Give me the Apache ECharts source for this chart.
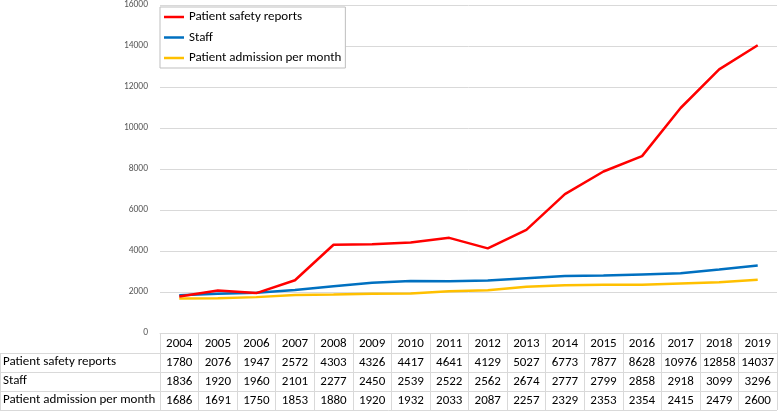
<!DOCTYPE html>
<html><head><meta charset="utf-8">
<script src="https://cdn.jsdelivr.net/npm/echarts@6/dist/echarts.min.js"></script>
<style>html,body{margin:0;padding:0;background:#fff}#c{width:780px;height:411px}</style>
</head><body><div id="c"></div>
<script>
const years = ['2004','2005','2006','2007','2008','2009','2010','2011','2012','2013','2014','2015','2016','2017','2018','2019'];
const reports = [1780,2076,1947,2572,4303,4326,4417,4641,4129,5027,6773,7877,8628,10976,12858,14037];
const staff = [1836,1920,1960,2101,2277,2450,2539,2522,2562,2674,2777,2799,2858,2918,3099,3296];
const admissions = [1686,1691,1750,1853,1880,1920,1932,2033,2087,2257,2329,2353,2354,2415,2479,2600];
const seriesNames = ['Patient safety reports','Staff','Patient admission per month'];
const yTicks = {min:0, max:16000, interval:2000};

const FONT = 'Calibri, Carlito, Lato, sans-serif';
const BORDER = '#d9d9d9';
const colors = ['#ff0000','#0070c0','#ffc000'];
const rows = [reports, staff, admissions];

const chart = echarts.init(document.getElementById('c'));
const L = 160, R = 777, TOP = 333;
const rowTops = [353, 372, 391];

const xAxes = [{
  type:'category', data: years, gridIndex:0, position:'bottom',
  axisLine:{show:true, lineStyle:{color:BORDER}},
  axisTick:{show:true, alignWithLabel:false, length:20, lineStyle:{color:BORDER}},
  axisLabel:{interval:0, margin:4, fontSize:13, color:'#000', fontFamily:FONT},
  splitLine:{show:false}
}];
rows.forEach((r,i)=>{
  xAxes.push({
    type:'category', data: r.map(String), gridIndex:0, position:'bottom', offset: rowTops[i]-TOP,
    axisLine:{show:true, lineStyle:{color:BORDER}},
    axisTick:{show:true, alignWithLabel:false, length:19, lineStyle:{color:BORDER}},
    axisLabel:{interval:0, margin:3, fontSize:13, color:'#000', fontFamily:FONT},
    splitLine:{show:false}
  });
});

const graphics = [];
rowTops.forEach((y,i)=>{
  graphics.push({type:'line', shape:{x1:0.5,y1:y+0.5,x2:L,y2:y+0.5}, style:{stroke:BORDER, lineWidth:1}, silent:true});
  graphics.push({type:'text', left:3, top:y+2, style:{text:seriesNames[i], font:'13px '+FONT, fill:'#000'}, silent:true});
});
graphics.push({type:'line', shape:{x1:0.5,y1:410.5,x2:R,y2:410.5}, style:{stroke:BORDER, lineWidth:1}, silent:true});
graphics.push({type:'line', shape:{x1:0.5,y1:353,x2:0.5,y2:411}, style:{stroke:BORDER, lineWidth:1}, silent:true});

chart.setOption({
  animation:false,
  textStyle:{fontFamily:FONT},
  grid:{left:L, right:780-R, top:3, bottom:411-TOP, containLabel:false},
  legend:{
    data: seriesNames.map((n,i)=>({name:n, icon:'rect', itemStyle:{color:colors[i]}})),
    orient:'vertical', left:160, top:7,
    backgroundColor:'#fff', borderColor:'#bfbfbf', borderWidth:1,
    padding:[3,4,3,4], itemWidth:20, itemHeight:2.5, itemGap:6.5,
    textStyle:{fontSize:13, lineHeight:14, color:'#000', fontFamily:FONT}
  },
  xAxis: xAxes,
  yAxis:{
    type:'value', min:yTicks.min, max:yTicks.max, interval:yTicks.interval,
    axisLine:{show:false}, axisTick:{show:false},
    axisLabel:{fontSize:9.5, color:'#595959', margin:12, fontFamily:FONT, formatter:v=>String(v)},
    splitLine:{lineStyle:{color:BORDER}}
  },
  graphic: graphics,
  series: rows.map((r,i)=>({
    name: seriesNames[i], type:'line', xAxisIndex:0, data:r,
    showSymbol:false, symbol:'none', lineStyle:{width:2.5, color:colors[i]}, itemStyle:{color:colors[i]}, z: 3-i
  }))
});
</script></body></html>
